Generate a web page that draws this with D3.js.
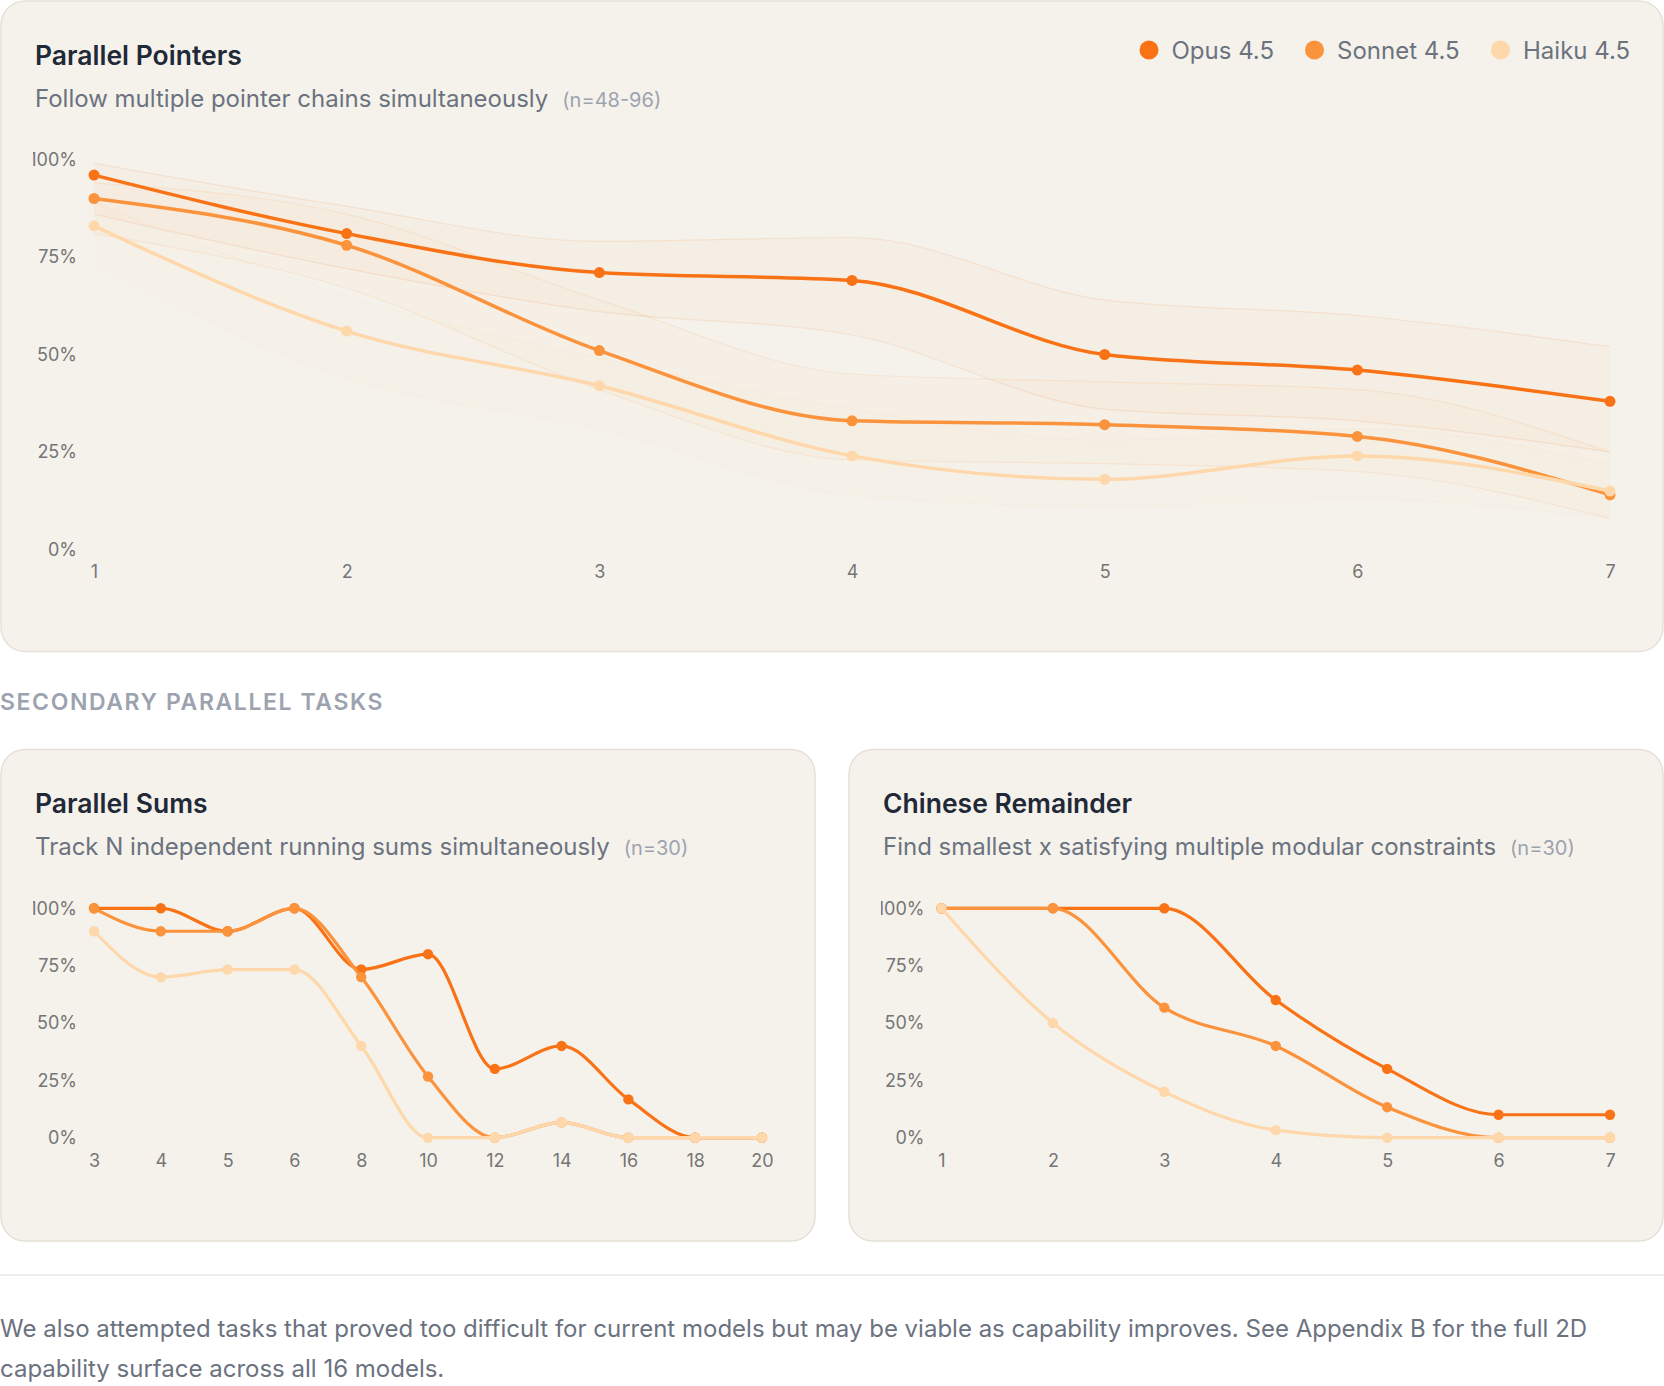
<!DOCTYPE html>
<html><head><meta charset="utf-8">
<script src="https://cdn.jsdelivr.net/npm/d3@7/dist/d3.min.js"></script>
<style>
html,body{margin:0;padding:0;background:#ffffff;}
svg{display:block;font-family:Inter,"Noto Sans",sans-serif;}
</style>
</head><body>
<svg id="page" width="1664" height="1386"></svg>
<script>
// ---------------- data ----------------
const models = ["Opus 4.5", "Sonnet 4.5", "Haiku 4.5"];
const modelColors = ["#f97316", "#fb923c", "#fed7aa"];
const yTickValues = [0, 25, 50, 75, 100];

// Parallel Pointers
const ppLevels = [1, 2, 3, 4, 5, 6, 7];
const ppOpus   = [96, 81, 71, 69, 50, 46, 38];
const ppSonnet = [90, 78, 51, 33, 32, 29, 14];
const ppHaiku  = [83, 56, 42, 24, 18, 24, 15];
const ppOpusLo   = [86, 72, 61, 55, 36, 33, 25];
const ppOpusHi   = [99, 88, 79, 80, 64, 60, 52];
const ppSonnetLo = [81, 67, 41, 23, 22, 20, 8];
const ppSonnetHi = [94, 86, 64, 45, 43, 41, 25];
const ppHaikuLo  = [73, 44, 31, 14, 11, 13, 8];
const ppHaikuHi  = [89, 65, 49, 36, 28, 31, 22];

// Parallel Sums
const psLevels = ["3", "4", "5", "6", "8", "10", "12", "14", "16", "18", "20"];
const psOpus   = [100, 100, 90, 100, 73.3, 80, 30, 40, 16.7, 0, 0];
const psSonnet = [100, 90, 90, 100, 70, 26.7, 0, 6.7, 0, 0, 0];
const psHaiku  = [90, 70, 73.3, 73.3, 40, 0, 0, 6.7, 0, 0, 0];

// Chinese Remainder
const crLevels = [1, 2, 3, 4, 5, 6, 7];
const crOpus   = [100, 100, 100, 60, 30, 10, 10];
const crSonnet = [100, 100, 56.7, 40, 13.3, 0, 0];
const crHaiku  = [100, 50, 20, 3.3, 0, 0, 0];

const texts = {
  ppTitle: "Parallel Pointers",
  ppSub: "Follow multiple pointer chains simultaneously",
  ppN: "(n=48-96)",
  section: "SECONDARY PARALLEL TASKS",
  psTitle: "Parallel Sums",
  psSub: "Track N independent running sums simultaneously",
  psN: "(n=30)",
  crTitle: "Chinese Remainder",
  crSub: "Find smallest x satisfying multiple modular constraints",
  crN: "(n=30)",
  foot1: "We also attempted tasks that proved too difficult for current models but may be viable as capability improves. See Appendix B for the full 2D",
  foot2: "capability surface across all 16 models."
};

// ---------------- drawing ----------------
const page = d3.select("#page");
const cardFill = "#f5f2eb", cardStroke = "#e5e1d8";
const titleColor = "#1f2937", subColor = "#6b7280", nColor = "#9ca3af", tickColor = "#757575";

function card(x, y, w, h) {
  page.append("rect").attr("x", x).attr("y", y).attr("width", w).attr("height", h)
    .attr("rx", 24).attr("fill", cardFill).attr("stroke", cardStroke).attr("stroke-width", 1.5);
}
function heading(x, yTitle, title, sub, n) {
  page.append("text").attr("x", x).attr("y", yTitle).attr("font-size", 26.5).attr("font-weight", 600)
    .attr("fill", titleColor).text(title);
  const s = page.append("text").attr("x", x).attr("y", yTitle + 42).attr("font-size", 24)
    .attr("fill", subColor).text(sub);
  const w = s.node().getComputedTextLength();
  page.append("text").attr("x", x + w + 14).attr("y", yTitle + 42).attr("font-size", 20)
    .attr("fill", nColor).text(n);
}

function chart(opt) {
  const g = page.append("svg").attr("x", opt.svgX).attr("y", opt.svgY)
    .attr("width", opt.svgW).attr("height", opt.svgH).style("overflow", "hidden");
  const x = opt.x.range([opt.plotL, opt.plotR]);
  const y = d3.scaleLinear().domain([0, 100]).range([opt.plotB, opt.plotT]);

  const yAxis = d3.axisLeft(y).tickValues(yTickValues).tickSize(0).tickPadding(17)
    .tickFormat(d => d + "%");
  const ya = g.append("g").attr("transform", `translate(${opt.plotL},0)`).call(yAxis);
  ya.select(".domain").remove();
  ya.selectAll("text").attr("font-size", 18).attr("fill", tickColor).attr("font-family", "Inter");

  const xAxis = d3.axisBottom(x).tickValues(opt.levels).tickSize(0).tickPadding(opt.xPad)
    .tickFormat(d => String(d));
  const xa = g.append("g").attr("transform", `translate(0,${opt.plotB})`).call(xAxis);
  xa.select(".domain").remove();
  xa.selectAll("text").attr("font-size", 18).attr("fill", tickColor).attr("font-family", "Inter");

  const curve = d3.curveMonotoneX;
  if (opt.bands) {
    opt.bands.forEach((b, i) => {
      const pts = opt.levels.map((l, j) => ({ l, lo: b.lo[j], hi: b.hi[j] }));
      g.append("path").datum(pts)
        .attr("d", d3.area().x(d => x(d.l)).y0(d => y(d.lo)).y1(d => y(d.hi)).curve(curve))
        .attr("fill", modelColors[i]).attr("fill-opacity", 0.03);
      ["lo", "hi"].forEach(k => {
        g.append("path").datum(pts)
          .attr("d", d3.line().x(d => x(d.l)).y(d => y(d[k])).curve(curve))
          .attr("fill", "none").attr("stroke", modelColors[i]).attr("stroke-opacity", 0.12)
          .attr("stroke-width", 1.2);
      });
    });
  }
  opt.series.forEach((vals, i) => {
    const pts = opt.levels.map((l, j) => ({ l, v: vals[j] }));
    g.append("path").datum(pts)
      .attr("d", d3.line().x(d => x(d.l)).y(d => y(d.v)).curve(curve))
      .attr("fill", "none").attr("stroke", modelColors[i]).attr("stroke-width", opt.lw)
      .attr("stroke-linejoin", "round").attr("stroke-linecap", "round");
    g.selectAll(null).data(pts).join("circle")
      .attr("cx", d => x(d.l)).attr("cy", d => y(d.v)).attr("r", opt.r)
      .attr("fill", modelColors[i]);
  });
}

// ---- Top card ----
card(1, 1, 1662, 650.5);
heading(35, 65, texts.ppTitle, texts.ppSub, texts.ppN);

// legend
const legendStarts = [1139.5, 1305, 1491];
models.forEach((m, i) => {
  page.append("circle").attr("cx", legendStarts[i] + 9.5).attr("cy", 50).attr("r", 9.5)
    .attr("fill", modelColors[i]);
  page.append("text").attr("x", legendStarts[i] + 32).attr("y", 58.5).attr("font-size", 24)
    .attr("fill", subColor).text(m);
});

chart({
  svgX: 33, svgY: 120, svgW: 1598, svgH: 500,
  plotL: 94 - 33, plotR: 1610 - 33, plotT: 159.5 - 120, plotB: 549.5 - 120,
  x: d3.scaleLinear().domain([1, 7]), levels: ppLevels, xPad: 15.5,
  series: [ppOpus, ppSonnet, ppHaiku],
  bands: [{ lo: ppOpusLo, hi: ppOpusHi }, { lo: ppSonnetLo, hi: ppSonnetHi }, { lo: ppHaikuLo, hi: ppHaikuHi }],
  lw: 3.5, r: 5.5
});

// ---- Section label ----
page.append("text").attr("x", 0).attr("y", 710).attr("font-size", 23).attr("font-weight", 600)
  .attr("letter-spacing", "1.6px").attr("fill", nColor).text(texts.section);

// ---- Bottom cards ----
card(1, 749.5, 814, 491.5);
card(849, 749.5, 814, 491.5);
heading(35, 813, texts.psTitle, texts.psSub, texts.psN);
heading(883, 813, texts.crTitle, texts.crSub, texts.crN);

chart({
  svgX: 33, svgY: 880, svgW: 750, svgH: 330,
  plotL: 94 - 33, plotR: 762 - 33, plotT: 908.3 - 880, plotB: 1137.7 - 880,
  x: d3.scalePoint().domain(psLevels), levels: psLevels, xPad: 17,
  series: [psOpus, psSonnet, psHaiku], lw: 3.2, r: 5.2
});
chart({
  svgX: 881, svgY: 880, svgW: 750, svgH: 330,
  plotL: 941.5 - 881, plotR: 1610 - 881, plotT: 908.3 - 880, plotB: 1137.7 - 880,
  x: d3.scaleLinear().domain([1, 7]), levels: crLevels, xPad: 17,
  series: [crOpus, crSonnet, crHaiku], lw: 3.2, r: 5.2
});

// ---- divider + footer ----
page.append("line").attr("x1", 0).attr("x2", 1664).attr("y1", 1275).attr("y2", 1275)
  .attr("stroke", "#e5e7eb").attr("stroke-width", 1.5);
page.append("text").attr("x", 0).attr("y", 1337).attr("font-size", 24).attr("fill", subColor).text(texts.foot1);
page.append("text").attr("x", 0).attr("y", 1377).attr("font-size", 24).attr("fill", subColor).text(texts.foot2);
</script>
</body></html>
